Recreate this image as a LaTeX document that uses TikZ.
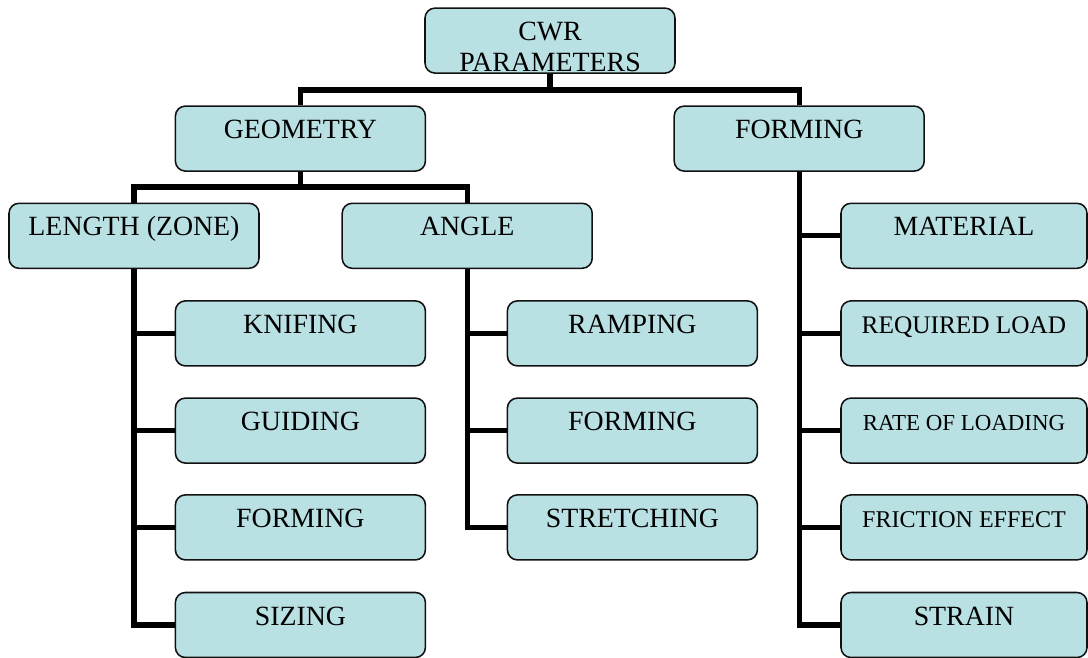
\documentclass[tikz,border=0pt]{standalone}
\usepackage{fontspec}
\setmainfont{Liberation Serif}
\usepackage{tikz}
\definecolor{boxfill}{HTML}{B9E0E3}
\definecolor{boxline}{HTML}{111111}

\tikzset{
    param/.style={draw=boxline, line width=1.1pt, fill=boxfill, rounded corners=0.25cm,
        minimum width=6.25cm, minimum height=1.625cm, inner sep=2pt,
        text height=0.4cm, text depth=0.4cm, font=\fontsize{19.8}{22}\selectfont},
    sidebox/.style={minimum width=6.15cm},
    link/.style={line width=3.6pt, black}
}

\begin{document}
\begin{tikzpicture}[scale=1.0]
    \useasboundingbox (0,0) rectangle (27.2,16.425);

    % Root (second line runs onto the lower edge)
    \node[param] (cwr) at (13.75,15.41) {\raisebox{-12pt}{\begin{tabular}{@{}c@{}}CWR\\PARAMETERS\end{tabular}}};

    % === Second level ===
    \node[param] (geom) at (7.51,12.96) {GEOMETRY};
    \node[param] (forming) at (19.98,12.96) {FORMING};

    % === Geometry branch ===
    \node[param] (length) at (3.35,10.53) {LENGTH (ZONE)};
    \node[param] (angle) at (11.68,10.53) {ANGLE};

    \node[param] (knifing) at (7.51,8.09) {KNIFING};
    \node[param] (guiding) at (7.51,5.66) {GUIDING};
    \node[param] (lforming) at (7.51,3.24) {FORMING};
    \node[param] (sizing) at (7.51,0.8) {SIZING};

    \node[param] (ramping) at (15.81,8.09) {RAMPING};
    \node[param] (aforming) at (15.81,5.66) {FORMING};
    \node[param] (stretching) at (15.81,3.24) {STRETCHING};

    % === Forming branch ===
    \node[param, sidebox] (material) at (24.1,10.53) {MATERIAL};
    \node[param, sidebox, font=\fontsize{18}{22}\selectfont] (load) at (24.1,8.09) {REQUIRED LOAD};
    \node[param, sidebox, font=\fontsize{16.3}{22}\selectfont] (rate) at (24.1,5.66) {RATE OF LOADING};
    \node[param, sidebox, font=\fontsize{17.1}{22}\selectfont] (friction) at (24.1,3.24) {FRICTION EFFECT};
    \node[param, sidebox] (strain) at (24.1,0.8) {STRAIN};

    % Junctions
    \coordinate (top) at (13.75,14.175);
    \coordinate (split) at (7.51,11.75);

    % Connectors
    \draw[link] (cwr.south) -- (top);
    \draw[link] (geom.north) |- (top) -| (forming.north);
    \draw[link] (geom.south) -- (split);
    \draw[link] (length.north) |- (split) -| (angle.north);

    \foreach \n in {knifing,guiding,lforming,sizing} {
        \draw[link] (length.south) |- (\n.west);
    }
    \foreach \n in {ramping,aforming,stretching} {
        \draw[link] (angle.south) |- (\n.west);
    }
    \foreach \n in {material,load,rate,friction,strain} {
        \draw[link] (forming.south) |- (\n.west);
    }
\end{tikzpicture}
\end{document}
